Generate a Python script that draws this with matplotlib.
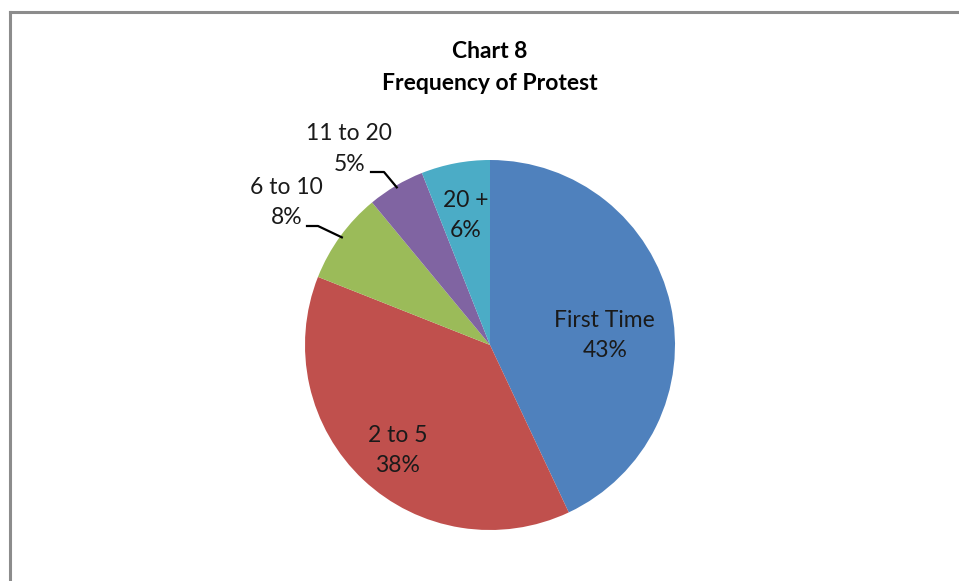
import numpy as np
import matplotlib.pyplot as plt

# Survey answers: how many protests has the respondent attended
categories = ['First Time', '2 to 5', '6 to 10', '11 to 20', '20 +']
shares = [43, 38, 8, 5, 6]
colors = ['#4F81BD', '#C0504D', '#9BBB59', '#8064A2', '#4BACC6']

plt.rcParams['font.family'] = ['Lato', 'DejaVu Sans']

W, H = 959, 581
fig = plt.figure(figsize=(W / 100, H / 100), dpi=100)

# chart frame (only the top and left edges are on the canvas)
fig.add_artist(plt.Line2D([9.5 / W, 9.5 / W], [0, 1 - 12 / H], color='#8c8c8c', lw=2.2))
fig.add_artist(plt.Line2D([9.5 / W, 1], [1 - 12 / H, 1 - 12 / H], color='#8c8c8c', lw=2.2))

cx, cy, r = 490, 345, 185
ax = fig.add_axes([(cx - r) / W, (H - cy - r) / H, 2 * r / W, 2 * r / H])
ax.axis('off')

wedges, _ = ax.pie(shares, colors=colors, startangle=90, counterclock=False,
                   radius=1, center=(0, 0), wedgeprops=dict(linewidth=0))
ax.set_xlim(-1, 1)
ax.set_ylim(-1, 1)

# label placement (x, y in pie radii)
label_pos = [(0.62, 0.05), (-0.50, -0.57), (-1.10, 0.77), (-0.76, 1.06), (-0.13, 0.70)]
for name, val, (lx, ly) in zip(categories, shares, label_pos):
    ax.text(lx, ly, f'{name}\n{val}%', ha='center', va='center', fontsize=16.5,
            color='#1a1a1a', linespacing=1.55)

# leader lines for the two small outside labels
def px(x, y):
    return (x - cx) / r, (cy - y) / r

for idx, start, knee in [(2, (307, 226), (318, 226)), (3, (371, 172), (384, 172))]:
    w = wedges[idx]
    mid = np.deg2rad((w.theta1 + w.theta2) / 2)
    end = (0.99 * np.cos(mid), 0.99 * np.sin(mid))
    p0, p1 = px(*start), px(*knee)
    ax.plot([p0[0], p1[0], end[0]], [p0[1], p1[1], end[1]], color='black', lw=1.6,
            clip_on=False)

fig.text(cx / W, 1 - 52 / H, 'Chart 8', ha='center', va='center', fontsize=16.5,
         fontweight='bold', color='black')
fig.text(cx / W, 1 - 84 / H, 'Frequency of Protest', ha='center', va='center',
         fontsize=16.5, fontweight='bold', color='black')

fig.savefig('out.png', dpi=100, facecolor='white')
